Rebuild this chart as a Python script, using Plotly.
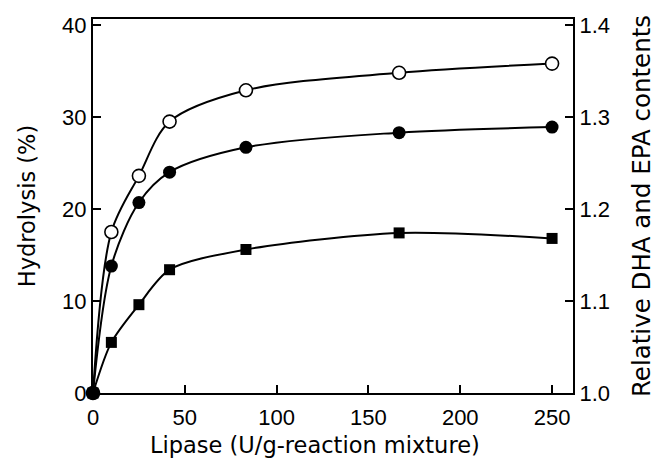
import plotly.graph_objects as go

# Data
lipase = [0, 10, 25, 41.7, 83.3, 166.7, 250]
open_circles = [0, 17.5, 23.6, 29.5, 32.9, 34.8, 35.8]
filled_circles = [0, 13.8, 20.7, 24.0, 26.7, 28.3, 28.9]
squares = [0, 5.5, 9.6, 13.4, 15.6, 17.4, 16.8]

x_ticks = [0, 50, 100, 150, 200, 250]
y_ticks = [0, 10, 20, 30, 40]
y2_ticks = [1.0, 1.1, 1.2, 1.3, 1.4]

x_title = "Lipase (U/g-reaction mixture)"
y_title = "Hydrolysis (%)"
y2_title = "Relative DHA and EPA contents"

tick_font = dict(family="Liberation Sans Narrow, Liberation Sans, Arial", size=22, color="black")
title_font = "DejaVu Sans, Arial"

fig = go.Figure()

fig.add_trace(go.Scatter(
    x=lipase, y=open_circles, mode="lines+markers",
    line=dict(color="black", width=2, shape="spline", smoothing=0.9),
    marker=dict(symbol="circle", size=13, color="white", line=dict(color="black", width=1.6)),
    cliponaxis=False, showlegend=False))
fig.add_trace(go.Scatter(
    x=lipase, y=filled_circles, mode="lines+markers",
    line=dict(color="black", width=2, shape="spline", smoothing=0.9),
    marker=dict(symbol="circle", size=13, color="black"),
    cliponaxis=False, showlegend=False))
fig.add_trace(go.Scatter(
    x=lipase, y=squares, mode="lines+markers",
    line=dict(color="black", width=2, shape="spline", smoothing=0.8),
    marker=dict(symbol="square", size=11, color="black"),
    cliponaxis=False, showlegend=False))
# empty trace so the right-hand axis is drawn
fig.add_trace(go.Scatter(x=[None], y=[None], yaxis="y2", mode="markers",
                         showlegend=False, hoverinfo="skip"))

fig.update_layout(
    width=656, height=459,
    margin=dict(l=93, r=83, t=19, b=66),
    paper_bgcolor="white", plot_bgcolor="white",
    xaxis=dict(
        range=[0, 261.4], tickvals=x_ticks, ticks="inside", ticklen=8, tickwidth=1.5,
        tickcolor="black", showline=True, linecolor="black", linewidth=2, mirror=True,
        showgrid=False, zeroline=False, tickfont=tick_font, automargin=False,
        ticklabelstandoff=4,
    ),
    yaxis=dict(
        range=[0, 40.65], tickvals=y_ticks, ticks="inside", ticklen=8, tickwidth=1.5,
        tickcolor="black", showline=True, linecolor="black", linewidth=2,
        showgrid=False, zeroline=False, tickfont=tick_font, automargin=False,
        title=dict(text=y_title,
                   font=dict(family=title_font, size=22.5, color="black"), standoff=20),
    ),
    yaxis2=dict(
        overlaying="y", side="right", anchor="x",
        range=[1.0, 1.4065], tickvals=y2_ticks, tickformat=".1f",
        ticks="inside", ticklen=8, tickwidth=1.5, tickcolor="black",
        showline=True, linecolor="black", linewidth=2,
        showgrid=False, zeroline=False, tickfont=tick_font, automargin=False,
        title=dict(text=y2_title,
                   font=dict(family=title_font, size=24.5, color="black"), standoff=24),
    ),
    annotations=[dict(
        text=x_title, xref="paper", yref="paper", x=0.4625, y=-0.139,
        xanchor="center", yanchor="middle", showarrow=False,
        font=dict(family=title_font, size=22.5, color="black"))],
)

fig.write_html("out.html", post_script="document.body.style.margin='0';",
               config={"displayModeBar": False})
